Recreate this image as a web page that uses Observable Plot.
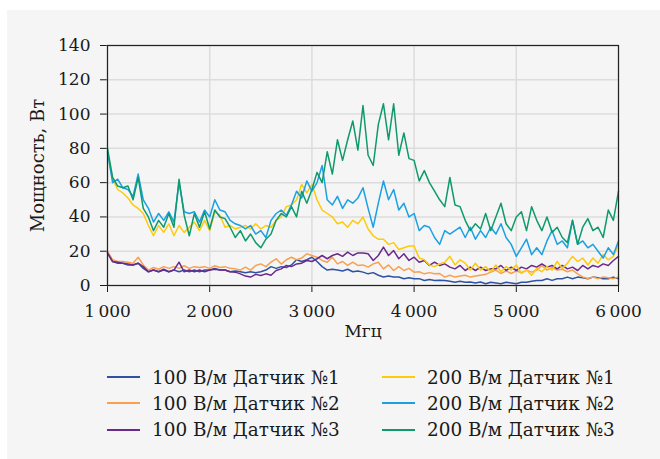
<!DOCTYPE html>
<html>
<head>
<meta charset="utf-8">
<script src="https://cdn.jsdelivr.net/npm/d3@7"></script>
<script src="https://cdn.jsdelivr.net/npm/@observablehq/plot@0.6"></script>
<style>
  html, body { margin: 0; padding: 0; background: #ffffff; width: 660px; height: 459px; overflow: hidden; }
  #bg { position: absolute; left: 7px; top: 10px; width: 653px; height: 449px; background: #f5f5f5; }
  #chart { position: absolute; left: 0; top: 0; }
  #legend { position: absolute; left: 0; top: 350px; width: 660px; height: 100px; font-family: "DejaVu Serif", serif; font-size: 18.4px; color: #1a1a1a; }
  .item { position: absolute; height: 20px; display: flex; align-items: center; white-space: nowrap; }
  .item svg { margin-right: 12px; }
</style>
</head>
<body>
<div id="bg"></div>
<div id="chart"></div>
<div id="legend"></div>
<script>
// Frequency, MHz
const freq = [
  1000,1050,1100,1150,1200,1250,1300,1350,1400,1450,
  1500,1550,1600,1650,1700,1750,1800,1850,1900,1950,
  2000,2050,2100,2150,2200,2250,2300,2350,2400,2450,
  2500,2550,2600,2650,2700,2750,2800,2850,2900,2950,
  3000,3050,3100,3150,3200,3250,3300,3350,3400,3450,
  3500,3550,3600,3650,3700,3750,3800,3850,3900,3950,
  4000,4050,4100,4150,4200,4250,4300,4350,4400,4450,
  4500,4550,4600,4650,4700,4750,4800,4850,4900,4950,
  5000,5050,5100,5150,5200,5250,5300,5350,5400,5450,
  5500,5550,5600,5650,5700,5750,5800,5850,5900,5950,
  6000
];

// 100 В/м Датчик №1
const s100_1 = [
  19,14,13,13,12,12,13,10,8,9,
  8,9,8,9,8,9,8,9,8,9,
  9,10,9,9,8,8.5,8,7.5,8,7.5,
  8,9,11,10,11,10.5,12,15,14,15,
  16.5,14,11,9,9.5,9,8.5,9.5,8,8.5,
  7.8,6.8,7.5,6,5,5.5,4.9,5,3.9,4.5,
  3.9,4,2.9,3.5,2.9,3,2.9,2.5,1.9,2.5,
  1.9,2,1.5,2,1,1.9,1.5,1,1.9,1.5,
  1,1.9,1.9,2.5,2.9,2.9,3.9,3,3.9,3.9,
  4.9,3.9,4.9,4.5,3.9,4.9,4.5,3.9,3.9,4.9,
  3.9
];
// 100 В/м Датчик №2
const s100_2 = [
  20,15,14,14,13.5,13,16.5,12,9,10.5,
  9.5,11,10,11,10,11.5,10,11,10.5,11,
  10,11.5,10.5,11,10,9.7,9,10.7,9,11.7,
  12.6,11,13.6,15.6,12.5,15,16.5,15,16,18.5,
  17.5,16.5,14.6,13.6,16.5,12.6,14,11.7,13.6,11.7,
  12,10.7,12.6,13.6,9.7,12,8.75,11,8.75,10,
  7.8,8,6.8,7.5,6.8,7,4.9,6,4.9,5.5,
  6,4.9,5.5,6,6.5,7.8,9,7,8.5,7,
  8.5,7.5,9,7.8,9,11.7,9,10.5,9,9.5,
  8,9,6.8,5,4,5,4,5,4.5,4,
  5
];
// 100 В/м Датчик №3
const s100_3 = [
  19,14,13.5,13,12.5,12,13,11,8,9,
  8,9.5,8,9,13.6,8,9,8,9,8,
  9,9.5,9,9,8,7.8,6.8,5.5,4.9,6.5,
  5.8,6.8,6,8.75,9.7,11.7,11,12.6,13,14.6,
  14,15.6,17.5,15.6,17.5,18.5,17,19.5,17.5,19,
  19,18.5,14.6,17.5,22.4,17.5,20.4,15.6,18.5,14.6,
  16.5,13.6,14.6,11.7,13.6,11.7,12.6,10.7,9.7,11.7,
  8.75,10.7,8.75,10.7,8.75,9.7,9.7,11.7,8.75,10.7,
  8.75,10.7,9.7,11.7,10.7,12.6,10.7,11.7,9.7,11.7,
  9.7,10.7,8.75,11.7,9.7,11.7,10.7,12.6,11.7,14.6,
  17
];
// 200 В/м Датчик №1
const s200_1 = [
  77,62,56,54,51,47,45,42,35,29,
  35,31,36,29,35,31,34,37,32,38,
  32,43,41,34,35,33,34,35,33,36,
  33,35,34,38,40,46,47,50,59,54,
  59,50,44,42,40,36,37,34,38,36,
  40,33,29,27,27,24,25,21,22,23,
  23,16,15,12,11,12.6,13.6,17,12,15,
  13,9,13,9,11,8,12,8,11,9,
  12,7,9,6,10,8,11,9,14,10,
  13,17,14,16,12,16,13,18,15,17,
  24
];
// 200 В/м Датчик №2
const s200_2 = [
  78,60,62,57,56,52,65,50,45,37,
  42,38,43,37,60,43,42,43,37,44,
  40,50,44,43,38,36,35,33,35,30,
  32,28,38,42,44,41,47,55,51,61,
  55,60,70,50,47,52,45,50,48,51,
  57,45,34,48,61,50,56,44,48,40,
  42,32,35,34,28,24,32,30,32,34,
  28,34,27,32,28,34,30,36,28,24,
  17,22,27,18,22,18,26,32,24,26,
  22,38,24,26,22,24,20,16,22,18,
  26
];
// 200 В/м Датчик №3
const s200_3 = [
  80,63,58,57,58,50,63,45,40,32,
  38,34,42,34,62,41,29,42,34,43,
  33,44,40,39,34,28,32,26,30,25,
  22,27,30,38,42,40,46,40,55,48,
  56,66,60,78,65,85,73,85,96,79,
  105,76,70,94,106,85,106,76,89,74,
  73,61,67,60,55,50,46,63,47,46,
  38,32,36,33,42,32,40,48,36,32,
  40,43,32,46,38,32,40,31,34,28,
  25,38,24,34,39,32,34,28,44,38,
  55
];

const seriesNames = [
  "100 В/м Датчик №1", "100 В/м Датчик №2", "100 В/м Датчик №3",
  "200 В/м Датчик №1", "200 В/м Датчик №2", "200 В/м Датчик №3"
];
const seriesColors = ["#2f52a3", "#f7a150", "#6a2a8c", "#fdca0c", "#1aa0e3", "#0f9a6b"];
const seriesValues = [s100_1, s100_2, s100_3, s200_1, s200_2, s200_3];

const xTicks = [1000, 2000, 3000, 4000, 5000, 6000];
const yTicks = [0, 20, 40, 60, 80, 100, 120, 140];
const xLabel = "Мгц";
const yLabel = "Мощность, Вт";

const rows = [];
seriesNames.forEach((name, i) => {
  seriesValues[i].forEach((v, j) => rows.push({s: name, f: freq[j], v}));
});

const fmt = d3.formatLocale({decimal: ",", thousands: "\u2009", grouping: [3], currency: ["", ""]}).format(",d");

const chart = Plot.plot({
  width: 660,
  height: 350,
  marginLeft: 107,
  marginRight: 42,
  marginTop: 45,
  marginBottom: 65,
  style: {background: "transparent", fontFamily: "'DejaVu Serif', serif", fontSize: "17px", color: "#1a1a1a", overflow: "visible"},
  x: {domain: [1000, 6000], ticks: xTicks, tickFormat: fmt, label: null, tickSize: 7, tickPadding: 12},
  y: {domain: [0, 140], ticks: yTicks, label: null, tickSize: 7, tickPadding: 10},
  color: {domain: seriesNames, range: seriesColors},
  marks: [
    Plot.ruleX(xTicks, {stroke: "#dcdcdc", strokeWidth: 1.5}),
    Plot.ruleY(yTicks, {stroke: "#dcdcdc", strokeWidth: 1.5}),
    Plot.line(rows, {x: "f", y: "v", z: "s", stroke: "s", strokeWidth: 1.5}),
    Plot.frame({stroke: "#222", strokeWidth: 1.2}),
    Plot.text([xLabel], {frameAnchor: "bottom", dy: 46, lineAnchor: "middle", textAnchor: "middle", fontSize: 17, fill: "#1a1a1a"}),
    Plot.text([yLabel], {frameAnchor: "left", dx: -69, rotate: -90, lineAnchor: "middle", textAnchor: "middle", fontSize: 18, fill: "#1a1a1a"})
  ]
});
document.getElementById("chart").appendChild(chart);

// Legend (HTML, below the SVG)
const legend = document.getElementById("legend");
const colX = [107, 382];
const rowY = [27, 53, 79.5];
seriesNames.forEach((name, i) => {
  const col = Math.floor(i / 3), row = i % 3;
  const item = document.createElement("div");
  item.className = "item";
  item.style.left = colX[col] + "px";
  item.style.top = (rowY[row] - 10) + "px";
  item.innerHTML = `<svg width="33" height="4"><line x1="0" x2="33" y1="2" y2="2" stroke="${seriesColors[i]}" stroke-width="2"/></svg><span>${name}</span>`;
  legend.appendChild(item);
});
</script>
</body>
</html>
